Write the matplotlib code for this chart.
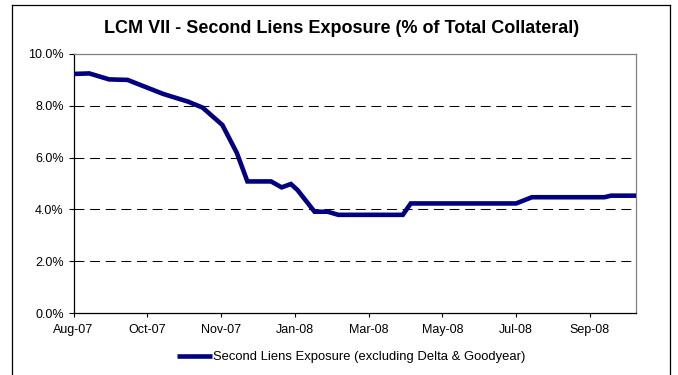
import numpy as np
import matplotlib
matplotlib.use("Agg")
import matplotlib.pyplot as plt
import matplotlib.dates as mdates
from matplotlib.lines import Line2D

plt.rcParams['font.family'] = ['Liberation Sans', 'DejaVu Sans']

# data (report dates, % of total collateral)
dates = ["2007-08-10", "2007-08-22", "2007-09-06", "2007-09-20", "2007-10-17",
         "2007-11-05", "2007-11-16", "2007-12-01", "2007-12-12", "2007-12-20",
         "2008-01-07", "2008-01-15", "2008-01-22", "2008-01-27", "2008-02-09",
         "2008-02-19", "2008-02-27", "2008-04-16", "2008-04-22", "2008-07-11",
         "2008-07-23", "2008-09-16", "2008-09-21", "2008-10-10"]
exposure = [9.23, 9.25, 9.02, 9.00, 8.46,
            8.16, 7.93, 7.26, 6.18, 5.08,
            5.08, 4.85, 4.98, 4.75, 3.91,
            3.91, 3.79, 3.79, 4.23, 4.23,
            4.47, 4.47, 4.53, 4.53]

series_label = "Second Liens Exposure (excluding Delta & Goodyear)"
title = "LCM VII - Second Liens Exposure (% of Total Collateral)"
y_ticks = [0, 2, 4, 6, 8, 10]
tick_start = "2007-08-10"
tick_step_days = 56
n_ticks = 8

x = np.array(dates, dtype="datetime64[D]")
y = np.array(exposure) / 100.0

fig = plt.figure(figsize=(6.78, 3.75), dpi=100)
ax = fig.add_axes([73.5 / 678, 1 - 313 / 375, (636 - 73.5) / 678, (313 - 54) / 375])

line, = ax.plot(x, y, color="#000080", linewidth=3.3, solid_joinstyle="miter",
                solid_capstyle="butt", label=series_label, zorder=3)

ax.set_ylim(0, 0.10)
ax.set_yticks([v / 100 for v in y_ticks])
ax.yaxis.set_major_formatter(plt.FuncFormatter(lambda v, _: f"{v * 100:.1f}%"))
for v in y_ticks[1:-1]:
    ax.axhline(v / 100, color="black", linewidth=0.75, linestyle=(0, (9.5, 5.5)), zorder=1)

start = np.datetime64(tick_start)
ticks = [start + np.timedelta64(i * tick_step_days, "D") for i in range(n_ticks)]
ax.set_xlim(x[0], x[-1])
ax.set_xticks(ticks)
ax.xaxis.set_major_formatter(mdates.DateFormatter("%b-%y"))

ax.tick_params(axis="y", direction="out", length=3.6, width=0.8, pad=3.5, labelsize=9)
ax.tick_params(axis="x", direction="out", length=2.8, width=0.8, pad=5, labelsize=9)

for side in ["left", "bottom"]:
    ax.spines[side].set_color("black")
    ax.spines[side].set_linewidth(0.9)
for side in ["top", "right"]:
    ax.spines[side].set_color("#808080")
    ax.spines[side].set_linewidth(0.9)

fig.text(342 / 678, 1 - 28.5 / 375, title, ha="center", va="center",
         fontsize=13, fontweight="bold")

fig.legend(handles=[line], loc="center", bbox_to_anchor=(351 / 678, 1 - 357 / 375),
           frameon=False, fontsize=9.4, handlelength=2.7, handletextpad=0.1,
           borderaxespad=0)

# outer chart border (bottom edge falls outside the picture)
for xs, ys in [([12, 12], [5, 380]), ([12, 670], [5, 5]), ([670, 670], [5, 380])]:
    fig.add_artist(Line2D([v / 678 for v in xs], [1 - v / 375 for v in ys],
                          color="black", linewidth=0.9))

fig.savefig("out.png", dpi=100)
